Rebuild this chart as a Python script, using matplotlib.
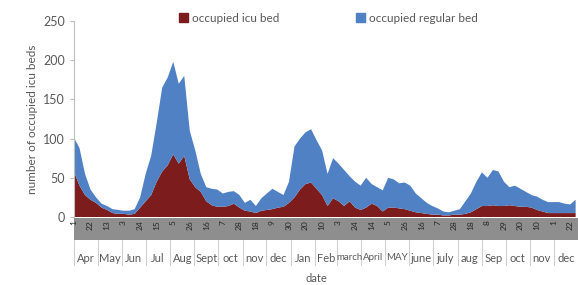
import datetime as dt

import matplotlib

matplotlib.use("Agg")

import matplotlib.pyplot as plt
from matplotlib.patches import Patch, Rectangle

plt.rcParams["font.family"] = ["Lato", "DejaVu Sans"]

# weekly readings, first week starts 1 Apr 2020
start = dt.date(2020, 4, 1)
icu = [58, 40, 28, 22, 18, 12, 9, 5, 4, 4, 3, 4, 12, 20, 28, 45, 58, 66, 80, 68,
       78, 48, 38, 32, 20, 15, 13, 13, 14, 17, 12, 8, 7, 5, 8, 9, 10, 12, 13, 18,
       25, 35, 42, 44, 36, 28, 14, 24, 20, 14, 20, 12, 9, 12, 17, 14, 7, 12, 12, 11,
       10, 8, 6, 5, 4, 3, 3, 2, 2, 3, 3, 4, 6, 10, 14, 14, 15, 14, 14, 15,
       14, 13, 13, 12, 9, 7, 5, 5, 5, 5, 5, 5]
total = [101, 88, 55, 35, 25, 17, 14, 10, 9, 8, 8, 10, 25, 55, 78, 120, 165, 178, 198, 170,
         180, 110, 85, 55, 38, 36, 35, 30, 32, 33, 28, 18, 22, 14, 24, 30, 36, 32, 28, 45,
         90, 100, 108, 112, 98, 85, 55, 75, 68, 60, 52, 45, 40, 50, 42, 38, 34, 50, 48, 43,
         44, 40, 30, 24, 18, 14, 11, 7, 6, 8, 10, 20, 30, 45, 57, 50, 60, 58, 45, 38,
         40, 36, 32, 28, 26, 22, 19, 19, 19, 17, 16, 22]
regular = [t - i for t, i in zip(total, icu)]
days = [7 * k for k in range(len(icu))]

months = ["Apr", "May", "Jun", "Jul", "Aug", "Sept", "oct", "nov", "dec", "Jan",
          "Feb", "march", "April", "MAY", "june", "july", "aug", "Sep", "oct",
          "nov", "dec"]
yticks = [0, 50, 100, 150, 200, 250]

red = "#7c1c1c"
blue = "#4f81c4"
grey_txt = "#595959"

fig = plt.figure(figsize=(5.78, 2.85), dpi=100)
ax = fig.add_axes([74 / 578, 68 / 285, 504 / 578, 196 / 285])

ax.stackplot(days, icu, regular, colors=[red, blue], linewidth=0)

end_day = (dt.date(2022, 1, 1) - start).days
ax.set_xlim(0, end_day)
ax.set_ylim(0, 250)
ax.set_yticks(yticks)
ax.tick_params(axis="y", labelsize=9, colors=grey_txt, length=3, color="#bfbfbf")
for side in ["top", "right", "bottom"]:
    ax.spines[side].set_visible(False)
ax.spines["left"].set_color("#bfbfbf")
ax.set_ylabel("number of occupied icu beds", fontsize=8.5, color=grey_txt, labelpad=4)

# grey band with day labels every 21 days
ax.add_patch(Rectangle((0, -23 / 196), 1, 22 / 196, transform=ax.transAxes,
                       facecolor="#8e8e8e", edgecolor="none", clip_on=False))
tick_days = list(range(0, end_day, 21))
ax.set_xticks(tick_days)
ax.set_xticklabels([str((start + dt.timedelta(days=d)).day) for d in tick_days],
                   rotation=90, fontsize=6, color="#262626")
ax.tick_params(axis="x", length=0, pad=2)

# month row
trans = ax.get_xaxis_transform()
month_starts = []
y, m = 2020, 4
for _ in range(len(months) + 1):
    month_starts.append((dt.date(y, m, 1) - start).days)
    m += 1
    if m > 12:
        y, m = y + 1, 1
for k, name in enumerate(months):
    a, b = month_starts[k], month_starts[k + 1]
    ax.plot([a, a], [-23 / 196, -48 / 196], transform=trans, color="#d0d0d0",
            lw=0.8, clip_on=False)
    size = 7 if len(name) > 4 or name.isupper() else 8
    ax.text((a + b) / 2, -41 / 196, name, transform=trans, ha="center", va="center",
            fontsize=size, color=grey_txt)
ax.text(0.48, -61 / 196, "date", transform=ax.transAxes, ha="center", va="center",
        fontsize=8, color=grey_txt)

handles = [Patch(color=red, label="occupied icu bed"),
           Patch(color=blue, label="occupied regular bed")]
fig.legend(handles=handles, loc="center", bbox_to_anchor=(328 / 578, 1 - 18 / 285),
           ncol=2, frameon=False, fontsize=8.5, handlelength=0.8, handleheight=0.8,
           handletextpad=0.3, columnspacing=6.5, labelcolor=grey_txt)

fig.savefig("out.png", dpi=100)
